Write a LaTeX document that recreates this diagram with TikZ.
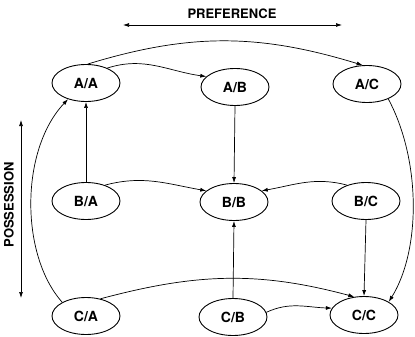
\documentclass[tikz,border=0pt]{standalone}
\usepackage{fontspec}
\setmainfont{TeX Gyre Heros}
\usetikzlibrary{arrows.meta,shapes.geometric}
\begin{document}
\begin{tikzpicture}[x=1pt,y=-1pt,
  state/.style={draw,ellipse,line width=0.9pt,minimum width=68pt,minimum height=37pt,inner sep=0pt,font=\fontsize{14}{16}\selectfont\bfseries},
  link/.style={line width=0.7pt,-{Latex[length=6pt,width=4pt]}},
  axis/.style={line width=0.7pt,{Latex[length=6pt,width=4pt]}-{Latex[length=6pt,width=4pt]}},
  axislabel/.style={font=\fontsize{13}{15}\selectfont\bfseries}]
\useasboundingbox (0,0) rectangle (415,337);
\node[state] (AA) at (86,83) {A/A};
\node[state] (AB) at (235,87) {A/B};
\node[state] (AC) at (367,84) {A/C};
\node[state] (BA) at (86,201) {B/A};
\node[state] (BB) at (234,202) {B/B};
\node[state] (BC) at (366,201) {B/C};
\node[state] (CA) at (86,316) {C/A};
\node[state] (CB) at (233,317) {C/B};
\node[state] (CC) at (364,315) {C/C};
% axes
\coordinate (PL) at (123,25);
\coordinate (PR) at (342,25);
\draw[axis] (PL) -- (PR);
\node[axislabel] (PT) at (232,14) {PREFERENCE};
\coordinate (ST) at (21,120);
\coordinate (SB) at (21,298);
\draw[axis] (ST) -- (SB);
\node[axislabel,rotate=90] (ST2) at (9,205) {POSSESSION};
% connectors
\draw[link] (AA.85) to[out=17,in=163] (AC.103);
\draw[link] (AA.35) to[out=18,in=172] (AB.160);
\draw[link] (BA.north) -- (AA.south);
\draw[link] (AB.south) -- (BB.north);
\draw[link] (BA.40) to[out=15,in=170] (BB.158);
\draw[link] (BC.140) to[out=165,in=10] (BB.22);
\draw[link] (CB.north) -- (BB.south);
\draw[link] (BC.south) -- (CC.north);
\draw[link] (CA.50) to[out=15,in=165] (CC.118);
\draw[link] (CB.8) to[out=25,in=178] (CC.168);
\draw[link] (CA.150) .. controls (20,255) and (20,150) .. (AA.222);
\draw[link] (AC.-35) .. controls (421,160) and (421,250) .. (CC.28);
\end{tikzpicture}
\end{document}
